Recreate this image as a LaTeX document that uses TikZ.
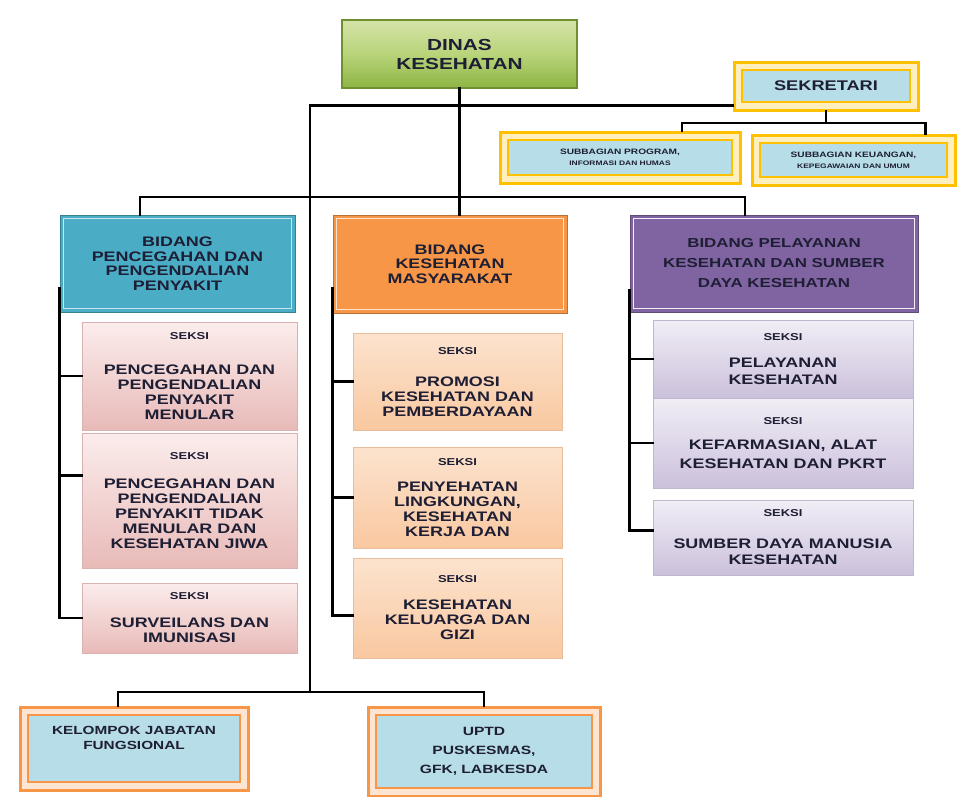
\documentclass[tikz,border=0pt]{standalone}
\usepackage{fontspec}
\setmainfont{Liberation Sans}[FakeStretch=1.3]
\usetikzlibrary{positioning}

\definecolor{inkdark}{HTML}{1E1E34}
\definecolor{dinastop}{HTML}{D4E3A8}
\definecolor{dinasmid}{HTML}{B9D47A}
\definecolor{dinasbot}{HTML}{8DB443}
\definecolor{dinasedge}{HTML}{6F8F30}
\definecolor{sekgold}{HTML}{FFC000}
\definecolor{frameorange}{HTML}{F79646}
\definecolor{skyfill}{HTML}{B7DEE8}
\definecolor{bidcyan}{HTML}{4BACC6}
\definecolor{bidorange}{HTML}{F79646}
\definecolor{bidpurple}{HTML}{8064A2}
\definecolor{pinktop}{HTML}{FBEDEC}
\definecolor{pinklow}{HTML}{E8BAB8}
\definecolor{peachtop}{HTML}{FCE3CE}
\definecolor{peachlow}{HTML}{F9C8A0}
\definecolor{lilactop}{HTML}{F1EEF6}
\definecolor{lilaclow}{HTML}{CBC0DB}

\newcommand\seksifont{\fontsize{10}{12}\selectfont}

\tikzset{
  link/.style={line width=2.6pt, line cap=rect},
  box/.style={rectangle, inner sep=1pt, align=center, text=inkdark},
  insetline/.style={path picture={\draw[#1, line width=1.3pt]
      ([shift={(3.5pt,3.5pt)}]path picture bounding box.south west) rectangle
      ([shift={(-3.5pt,-3.5pt)}]path picture bounding box.north east);}},
  dframe/.style={box, draw=#1, line width=3pt, fill=#1!25!white,
    path picture={\draw[#1, line width=1.5pt, fill=skyfill]
      ([shift={(8pt,8pt)}]path picture bounding box.south west) rectangle
      ([shift={(-8pt,-8pt)}]path picture bounding box.north east);}},
  dinasbox/.style={box, draw=dinasedge, line width=1.2pt, top color=dinastop,
    bottom color=dinasbot, middle color=dinasmid, font=\fontsize{16}{19}\selectfont\bfseries},
  bidang/.style 2 args={box, draw=#1!75!black, line width=1pt, fill=#1, insetline=#2,
    font=\fontsize{13.8}{14.5}\selectfont\bfseries},
  seksi/.style 2 args={box, draw=#2!85!gray, line width=0.6pt, top color=#1, bottom color=#2,
    font=\fontsize{13.8}{15}\selectfont\bfseries},
}

\begin{document}
\begin{tikzpicture}[x=1pt,y=-1pt]
\useasboundingbox (0,0) rectangle (957,796);

% kepala dinas dan sekretariat
\node[dinasbox, minimum width=235pt, minimum height=68pt] (dinas) at (459.5,54) {DINAS\\KESEHATAN};
\node[dframe=sekgold, minimum width=184pt, minimum height=48pt, font=\fontsize{14}{16}\selectfont\bfseries] (sekretari) at (826,86) {SEKRETARI};
\node[dframe=sekgold, minimum width=240pt, minimum height=51pt, font=\fontsize{7.8}{11}\selectfont\bfseries] (subprog) at (620,157.5) {SUBBAGIAN PROGRAM,\\{\fontsize{6.5}{8}\selectfont INFORMASI DAN HUMAS}};
\node[dframe=sekgold, minimum width=203pt, minimum height=50pt, font=\fontsize{7.8}{11}\selectfont\bfseries] (subkeu) at (853.5,160) {SUBBAGIAN KEUANGAN,\\{\fontsize{6.5}{8}\selectfont KEPEGAWAIAN DAN UMUM}};

% bidang
\node[bidang={bidcyan}{white!70!bidcyan}, minimum width=235pt, minimum height=97pt] (bidp2p) at (177.5,263.5) {BIDANG\\PENCEGAHAN DAN\\PENGENDALIAN\\PENYAKIT};
\node[bidang={bidorange}{peachtop}, minimum width=234pt, minimum height=98pt] (bidkesmas) at (450,264) {BIDANG\\KESEHATAN\\MASYARAKAT};
\node[bidang={bidpurple}{lilactop}, minimum width=288pt, minimum height=97pt, font=\fontsize{13}{20}\selectfont\bfseries] (bidyankes) at (774,263.5) {BIDANG PELAYANAN\\KESEHATAN DAN SUMBER\\DAYA KESEHATAN};

% seksi bidang P2P
\node[seksi={pinktop}{pinklow}, minimum width=215pt, minimum height=108pt] (seksiA1) at (189.5,376) {{\seksifont SEKSI}\\[20pt]PENCEGAHAN DAN\\PENGENDALIAN\\PENYAKIT\\MENULAR};
\node[seksi={pinktop}{pinklow}, minimum width=215pt, minimum height=135pt] (seksiA2) at (189.5,500.5) {{\seksifont SEKSI}\\[14pt]PENCEGAHAN DAN\\PENGENDALIAN\\PENYAKIT TIDAK\\MENULAR DAN\\KESEHATAN JIWA};
\node[seksi={pinktop}{pinklow}, minimum width=215pt, minimum height=70pt] (seksiA3) at (189.5,618) {{\seksifont SEKSI}\\[13pt]SURVEILANS DAN\\IMUNISASI};

% seksi bidang kesmas
\node[seksi={peachtop}{peachlow}, minimum width=209pt, minimum height=97pt] (seksiB1) at (457.5,381.5) {{\seksifont SEKSI}\\[17pt]PROMOSI\\KESEHATAN DAN\\PEMBERDAYAAN};
\node[seksi={peachtop}{peachlow}, minimum width=209pt, minimum height=101pt] (seksiB2) at (457.5,497.5) {{\seksifont SEKSI}\\[11pt]PENYEHATAN\\LINGKUNGAN,\\KESEHATAN\\KERJA DAN};
\node[seksi={peachtop}{peachlow}, minimum width=209pt, minimum height=100pt] (seksiB3) at (457.5,608) {{\seksifont SEKSI}\\[12pt]KESEHATAN\\KELUARGA DAN\\GIZI};

% seksi bidang yankes
\node[seksi={lilactop}{lilaclow}, minimum width=260pt, minimum height=78pt, font=\fontsize{13.8}{17}\selectfont\bfseries] (seksiC1) at (783,359) {{\seksifont SEKSI}\\[10pt]PELAYANAN\\KESEHATAN};
\node[seksi={lilactop}{lilaclow}, minimum width=260pt, minimum height=90pt, font=\fontsize{13.8}{19}\selectfont\bfseries] (seksiC2) at (783,443) {{\seksifont SEKSI}\\[6pt]KEFARMASIAN, ALAT\\KESEHATAN DAN PKRT};
\node[seksi={lilactop}{lilaclow}, minimum width=260pt, minimum height=75pt, font=\fontsize{13.8}{16}\selectfont\bfseries] (seksiC3) at (783,537.5) {{\seksifont SEKSI}\\[16pt]SUMBER DAYA MANUSIA\\KESEHATAN};

% kelompok fungsional dan uptd
\node[dframe=frameorange, minimum width=228pt, minimum height=83pt] (jabfung) at (134,748.5) {};
\node[box, font=\fontsize{11.8}{15}\selectfont\bfseries, below=20pt of jabfung.north] (jabfungtxt) {KELOMPOK JABATAN\\FUNGSIONAL};
\node[dframe=frameorange, minimum width=232pt, minimum height=89pt, font=\fontsize{12}{19}\selectfont\bfseries] (uptd) at (484,751.5) {UPTD\\PUSKESMAS,\\GFK, LABKESDA};

% garis
\coordinate (busB) at (459.5,197);
\coordinate (busU) at (310,692);
\coordinate (busS) at (826,123);
\draw[link] (dinas.south) -- (dinas.south |- bidkesmas.north);
\draw[link] ([xshift=-37.5pt]bidp2p.north) |- (busB) -| ([xshift=-29pt]bidyankes.north);
\draw[link] ([yshift=6pt]sekretari.south west) -| (busU);
\draw[link] ([xshift=-16pt]jabfung.north) |- (busU) -| (uptd.north);
\draw[link] (sekretari.south) -- (busS);
\draw[link] ([xshift=62pt]subprog.north) |- (busS) -| ([xshift=72pt]subkeu.north);

\draw[link] ([yshift=24pt]bidp2p.south west) |- (seksiA3.west);
\draw[link] (seksiA1.west) -- (seksiA1.west -| bidp2p.west);
\draw[link] (seksiA2.167) -- (seksiA2.167 -| bidp2p.west);

\draw[link] ([yshift=25pt]bidkesmas.south west) |- (seksiB3.184);
\draw[link] (seksiB1.west) -- (seksiB1.west -| bidkesmas.west);
\draw[link] (seksiB2.west) -- (seksiB2.west -| bidkesmas.west);

\draw[link] ([yshift=22pt]bidyankes.south west) |- (seksiC3.177);
\draw[link] (seksiC1.west) -- (seksiC1.west -| bidyankes.west);
\draw[link] (seksiC2.west) -- (seksiC2.west -| bidyankes.west);

\end{tikzpicture}
\end{document}
